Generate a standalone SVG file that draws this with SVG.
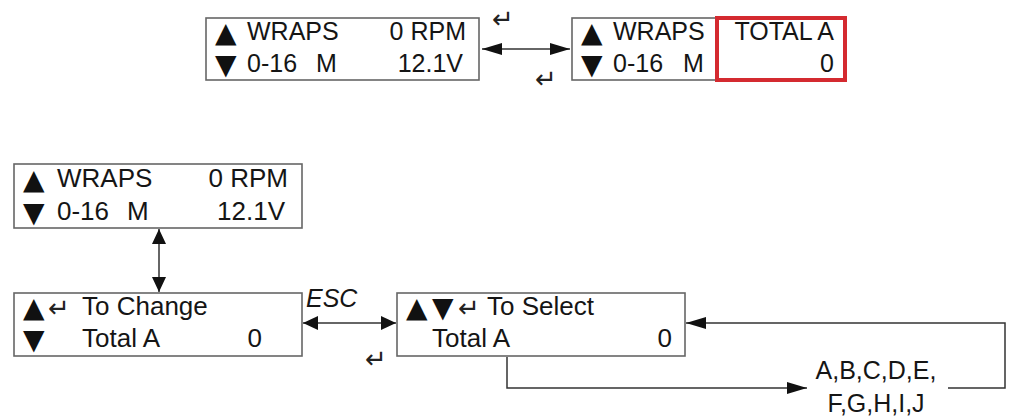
<svg xmlns="http://www.w3.org/2000/svg" width="1027" height="416" viewBox="0 0 1027 416">
<style>
.box{fill:#fff;stroke:#666;stroke-width:1.6}
.t{font-family:"Liberation Sans",Arial,sans-serif;font-size:25px;fill:#151515}
.b{font-size:26px}
.sym{font-family:"DejaVu Sans",sans-serif;font-size:28px;fill:#111}
.ret{font-family:"DejaVu Sans",sans-serif;font-size:26px;fill:#222}
.e{text-anchor:end}
.m{text-anchor:middle}
.ln{fill:none;stroke:#333;stroke-width:1.5}
</style>
<defs>
<marker id="ah" viewBox="0 0 20 12" refX="20" refY="6" markerWidth="20" markerHeight="12" markerUnits="userSpaceOnUse" orient="auto-start-reverse">
<path d="M0,0 L20,6 L0,12 Z" fill="#111"/>
</marker>
<marker id="as" viewBox="0 0 15 14" refX="15" refY="7" markerWidth="15" markerHeight="14" markerUnits="userSpaceOnUse" orient="auto-start-reverse">
<path d="M0,0 L15,7 L0,14 Z" fill="#111"/>
</marker>
</defs>
<rect width="1027" height="416" fill="#fff"/>

<g id="connectors">
<line class="ln" x1="482" y1="49" x2="570" y2="49" marker-start="url(#ah)" marker-end="url(#ah)"/>
<line class="ln" x1="159" y1="229" x2="159" y2="292" marker-start="url(#as)" marker-end="url(#as)"/>
<line class="ln" x1="303" y1="323" x2="396" y2="323" marker-start="url(#as)" marker-end="url(#as)"/>
<path class="ln" d="M507,357 V388 H807" marker-end="url(#ah)"/>
<path class="ln" d="M948,388 H1005 V323 H686" marker-end="url(#ah)"/>
<text class="ret" x="492" y="28">↵</text>
<text class="ret" x="535" y="88">↵</text>
<text class="ret" x="365" y="368">↵</text>
<text class="t" x="306" y="307" font-style="italic">ESC</text>
</g>

<g id="lcd-main-top">
<rect class="box" x="206" y="18" width="273" height="62"/>
<text class="sym" x="215" y="42">▲</text>
<text class="t" x="247" y="40">WRAPS</text>
<text class="t e" x="466" y="40">0 RPM</text>
<text class="sym" x="215" y="74">▼</text>
<text class="t" x="247" y="72">0-16</text>
<text class="t" x="316" y="72">M</text>
<text class="t e" x="463" y="72">12.1V</text>
</g>

<g id="lcd-total-top">
<rect class="box" x="572" y="18" width="273" height="62"/>
<text class="sym" x="581" y="42">▲</text>
<text class="t" x="613" y="40">WRAPS</text>
<text class="sym" x="581" y="74">▼</text>
<text class="t" x="613" y="72">0-16</text>
<text class="t" x="683" y="72">M</text>
<rect x="717" y="18" width="128" height="62" fill="none" stroke="#d42a30" stroke-width="4"/>
<text class="t e" x="834" y="40">TOTAL A</text>
<text class="t e" x="834" y="72">0</text>
</g>

<g id="lcd-main">
<rect class="box" x="14" y="164" width="288" height="64"/>
<text class="sym" x="23" y="189">▲</text>
<text class="t b" x="57" y="187">WRAPS</text>
<text class="t b e" x="288" y="187">0 RPM</text>
<text class="sym" x="23" y="222">▼</text>
<text class="t b" x="57" y="220">0-16</text>
<text class="t b" x="127" y="220">M</text>
<text class="t b e" x="285" y="220">12.1V</text>
</g>

<g id="lcd-to-change">
<rect class="box" x="14" y="293" width="288" height="63"/>
<text class="sym" x="23" y="317">▲</text>
<text class="ret" x="48" y="317" font-size="20">↵</text>
<text class="t b" x="82" y="315">To Change</text>
<text class="sym" x="23" y="349">▼</text>
<text class="t b" x="82" y="347">Total A</text>
<text class="t b e" x="262" y="347">0</text>
</g>

<g id="lcd-to-select">
<rect class="box" x="397" y="293" width="288" height="63"/>
<text class="sym" x="406" y="317">▲</text>
<text class="sym" x="432" y="317">▼</text>
<text class="ret" x="458" y="317" font-size="20">↵</text>
<text class="t b" x="487" y="315">To Select</text>
<text class="t b" x="432" y="347">Total A</text>
<text class="t b e" x="672" y="347">0</text>
</g>

<g id="options">
<text class="t m" x="876" y="379" font-size="26.5">A,B,C,D,E,</text>
<text class="t m" x="876" y="412" font-size="26.5">F,G,H,I,J</text>
</g>
</svg>
